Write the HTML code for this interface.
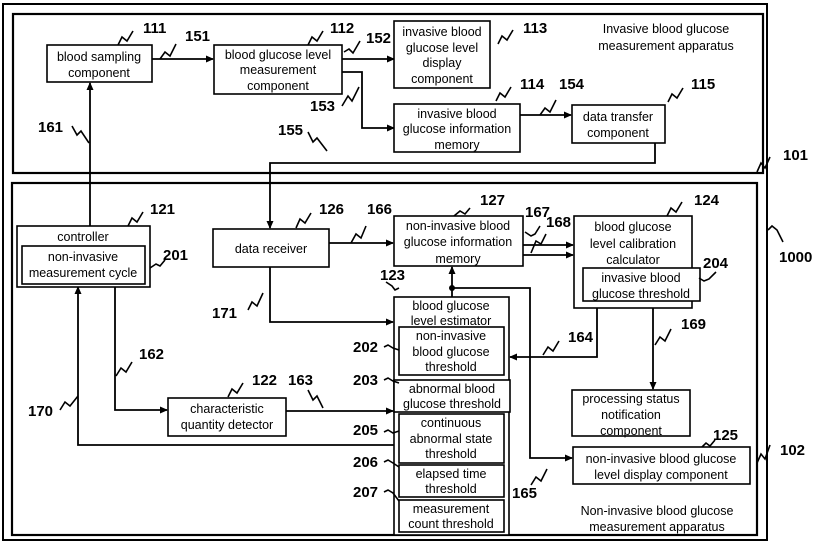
<!DOCTYPE html>
<html><head><meta charset="utf-8"><style>
html,body{margin:0;padding:0;background:#fff}
svg{display:block}
text{font-family:"Liberation Sans",sans-serif;font-size:12.5px;fill:#000}
.n{font-size:15px;font-weight:bold}
.b{fill:#fff;stroke:#000;stroke-width:1.6}
.l{fill:none;stroke:#000;stroke-width:1.8}
.s{fill:none;stroke:#000;stroke-width:1.6}
</style></head><body>
<svg width="817" height="545" viewBox="0 0 817 545" xmlns="http://www.w3.org/2000/svg">
<defs><marker id="a" markerWidth="8" markerHeight="8" refX="7" refY="4" orient="auto" markerUnits="userSpaceOnUse"><path d="M0,0.5 L8,4 L0,7.5 z" fill="#000"/></marker></defs>
<!-- outer boxes -->
<rect x="3" y="4" width="764" height="536" fill="none" stroke="#000" stroke-width="2"/>
<rect x="13" y="14" width="750" height="159" fill="none" stroke="#000" stroke-width="2.2"/>
<rect x="12" y="183" width="745" height="352" fill="none" stroke="#000" stroke-width="2.2"/>
<!-- connectors -->
<path class="l" d="M152,59 H213" marker-end="url(#a)"/>
<path class="l" d="M342,59 H394" marker-end="url(#a)"/>
<path class="l" d="M342,72 H362 V128 H394" marker-end="url(#a)"/>
<path class="l" d="M520,115 H571" marker-end="url(#a)"/>
<path class="l" d="M655,142 V163 H270 V228" marker-end="url(#a)"/>
<path class="l" d="M90,226 V83" marker-end="url(#a)"/>
<path class="l" d="M329,243 H393" marker-end="url(#a)"/>
<path class="l" d="M523,245 H573" marker-end="url(#a)"/>
<path class="l" d="M523,255 H573" marker-end="url(#a)"/>
<path class="l" d="M452,297 V267" marker-end="url(#a)"/>
<path class="l" d="M452,288 H530 V458 H572" marker-end="url(#a)"/>
<circle cx="452" cy="288" r="3"/>
<path class="l" d="M597,308 V357 H510" marker-end="url(#a)"/>
<path class="l" d="M653,308 V389" marker-end="url(#a)"/>
<path class="l" d="M270,267 V322 H393" marker-end="url(#a)"/>
<path class="l" d="M115,286 V410 H167" marker-end="url(#a)"/>
<path class="l" d="M286,411 H393" marker-end="url(#a)"/>
<path class="l" d="M394,445 H78 V287" marker-end="url(#a)"/>
<!-- boxes -->
<rect class="b" x="47" y="45" width="105" height="37"/>
<text x="99" y="61" text-anchor="middle">blood sampling</text><text x="99" y="77" text-anchor="middle">component</text>
<rect class="b" x="214" y="45" width="128" height="49"/>
<text x="278" y="59" text-anchor="middle">blood glucose level</text><text x="278" y="74" text-anchor="middle">measurement</text><text x="278" y="90" text-anchor="middle">component</text>
<rect class="b" x="394" y="21" width="96" height="67"/>
<text x="442" y="36" text-anchor="middle">invasive blood</text><text x="442" y="52" text-anchor="middle">glucose level</text><text x="442" y="67" text-anchor="middle">display</text><text x="442" y="83" text-anchor="middle">component</text>
<rect class="b" x="394" y="104" width="126" height="48"/>
<text x="457" y="118" text-anchor="middle">invasive blood</text><text x="457" y="133" text-anchor="middle">glucose information</text><text x="457" y="149" text-anchor="middle">memory</text>
<rect class="b" x="572" y="105" width="93" height="38"/>
<text x="618" y="121" text-anchor="middle">data transfer</text><text x="618" y="137" text-anchor="middle">component</text>
<text x="666" y="33" text-anchor="middle">Invasive blood glucose</text><text x="666" y="50" text-anchor="middle">measurement apparatus</text>
<rect class="b" x="17" y="226" width="133" height="61"/>
<text x="83" y="241" text-anchor="middle">controller</text>
<rect class="b" x="22" y="246" width="123" height="38"/>
<text x="83" y="261" text-anchor="middle">non-invasive</text><text x="83" y="277" text-anchor="middle">measurement cycle</text>
<rect class="b" x="213" y="229" width="116" height="38"/>
<text x="271" y="253" text-anchor="middle">data receiver</text>
<rect class="b" x="394" y="216" width="129" height="50"/>
<text x="458" y="230" text-anchor="middle">non-invasive blood</text><text x="458" y="246" text-anchor="middle">glucose information</text><text x="458" y="263" text-anchor="middle">memory</text>
<rect class="b" x="574" y="216" width="118" height="92"/>
<text x="633" y="231" text-anchor="middle">blood glucose</text><text x="633" y="248" text-anchor="middle">level calibration</text><text x="633" y="264" text-anchor="middle">calculator</text>
<rect class="b" x="583" y="268" width="117" height="33"/>
<text x="641" y="282" text-anchor="middle">invasive blood</text><text x="641" y="298" text-anchor="middle">glucose threshold</text>
<rect class="b" x="394" y="297" width="115" height="238"/>
<text x="451" y="310" text-anchor="middle">blood glucose</text><text x="451" y="325" text-anchor="middle">level estimator</text>
<rect class="b" x="399" y="327" width="105" height="48"/>
<text x="451" y="340" text-anchor="middle">non-invasive</text><text x="451" y="356" text-anchor="middle">blood glucose</text><text x="451" y="371" text-anchor="middle">threshold</text>
<rect class="b" x="394" y="380" width="116" height="32"/>
<text x="452" y="393" text-anchor="middle">abnormal blood</text><text x="452" y="408" text-anchor="middle">glucose threshold</text>
<rect class="b" x="399" y="414" width="105" height="49"/>
<text x="451" y="427" text-anchor="middle">continuous</text><text x="451" y="443" text-anchor="middle">abnormal state</text><text x="451" y="458" text-anchor="middle">threshold</text>
<rect class="b" x="399" y="465" width="105" height="32"/>
<text x="451" y="478" text-anchor="middle">elapsed time</text><text x="451" y="493" text-anchor="middle">threshold</text>
<rect class="b" x="399" y="500" width="105" height="32"/>
<text x="451" y="513" text-anchor="middle">measurement</text><text x="451" y="528" text-anchor="middle">count threshold</text>
<rect class="b" x="572" y="390" width="118" height="46"/>
<text x="631" y="403" text-anchor="middle">processing status</text><text x="631" y="419" text-anchor="middle">notification</text><text x="631" y="435" text-anchor="middle">component</text>
<rect class="b" x="573" y="447" width="177" height="37"/>
<text x="661" y="463" text-anchor="middle">non-invasive blood glucose</text><text x="661" y="479" text-anchor="middle">level display component</text>
<rect class="b" x="168" y="398" width="118" height="38"/>
<text x="227" y="413" text-anchor="middle">characteristic</text><text x="227" y="429" text-anchor="middle">quantity detector</text>
<text x="657" y="515" text-anchor="middle">Non-invasive blood glucose</text><text x="657" y="531" text-anchor="middle">measurement apparatus</text>
<!-- numbers -->
<text class="n" x="143" y="33">111</text><path class="s" d="M118,45 l4,-8 l5,4 l6,-10"/>
<text class="n" x="185" y="41">151</text><path class="s" d="M160,59 l5,-7 l5,4 l6,-12"/>
<text class="n" x="330" y="33">112</text><path class="s" d="M308,45 l4,-8 l5,4 l6,-10"/>
<text class="n" x="366" y="43">152</text><path class="s" d="M344,52 l5,-3 l4,4 l7,-12"/>
<text class="n" x="310" y="111">153</text><path class="s" d="M342,106 l6,-10 l4,5 l7,-14"/>
<text class="n" x="523" y="33">113</text><path class="s" d="M498,44 l4,-8 l5,4 l6,-10"/>
<text class="n" x="520" y="89">114</text><path class="s" d="M496,101 l4,-8 l5,4 l6,-10"/>
<text class="n" x="559" y="89">154</text><path class="s" d="M540,115 l5,-7 l5,4 l6,-12"/>
<text class="n" x="691" y="89">115</text><path class="s" d="M668,102 l4,-8 l5,4 l6,-10"/>
<text class="n" x="38" y="132">161</text><path class="s" d="M72,126 l5,9 l4,-4 l8,12"/>
<text class="n" x="278" y="135">155</text><path class="s" d="M308,132 l5,10 l4,-4 l10,13"/>
<text class="n" x="783" y="160">101</text><path class="s" d="M757,172 l4,-9 l4,5 l5,-11"/>
<text class="n" x="150" y="214">121</text><path class="s" d="M128,226 l4,-8 l5,4 l6,-10"/>
<text class="n" x="163" y="260">201</text><path class="s" d="M150,268 l6,-4 l4,2 l5,-6"/>
<text class="n" x="319" y="214">126</text><path class="s" d="M296,228 l4,-9 l5,4 l6,-10"/>
<text class="n" x="367" y="214">166</text><path class="s" d="M351,243 l5,-9 l5,4 l5,-12"/>
<text class="n" x="480" y="205">127</text><path class="s" d="M470,208 l-5,6 l-5,-3 l-6,5"/>
<text class="n" x="525" y="217">167</text><path class="s" d="M525,232 l6,4 l4,-2 l5,-8"/>
<text class="n" x="546" y="227">168</text><path class="s" d="M531,253 l5,-12 l5,3 l5,-10"/>
<text class="n" x="694" y="205">124</text><path class="s" d="M667,216 l4,-8 l5,4 l6,-10"/>
<text class="n" x="703" y="268">204</text><path class="s" d="M699,278 l5,3 l5,-2 l7,-7"/>
<text class="n" x="779" y="262">1000</text><path class="s" d="M768,230 l4,-4 l5,4 l6,12"/>
<text class="n" x="380" y="280">123</text><path class="s" d="M399,288 l-4,2 l-3,-4 l-6,-4"/>
<text class="n" x="212" y="318">171</text><path class="s" d="M248,310 l4,-8 l5,4 l6,-13"/>
<text class="n" x="568" y="342">164</text><path class="s" d="M543,355 l5,-8 l5,4 l6,-10"/>
<text class="n" x="681" y="329">169</text><path class="s" d="M655,345 l5,-8 l5,4 l6,-12"/>
<text class="n" x="353" y="352">202</text><path class="s" d="M384,347 l4,-2 l5,3 l6,2"/>
<text class="n" x="353" y="385">203</text><path class="s" d="M384,380 l4,-2 l5,3 l6,2"/>
<text class="n" x="139" y="359">162</text><path class="s" d="M116,376 l5,-8 l5,4 l6,-10"/>
<text class="n" x="252" y="385">122</text><path class="s" d="M228,397 l4,-8 l5,4 l6,-10"/>
<text class="n" x="288" y="385">163</text><path class="s" d="M308,390 l5,10 l4,-4 l6,12"/>
<text class="n" x="28" y="416">170</text><path class="s" d="M60,410 l5,-8 l5,4 l8,-10"/>
<text class="n" x="353" y="435">205</text><path class="s" d="M384,432 l4,-2 l5,3 l6,-2"/>
<text class="n" x="353" y="467">206</text><path class="s" d="M384,462 l4,-2 l5,3 l6,4"/>
<text class="n" x="353" y="497">207</text><path class="s" d="M384,492 l4,-2 l5,3 l6,8"/>
<text class="n" x="512" y="498">165</text><path class="s" d="M531,485 l5,-8 l5,4 l6,-12"/>
<text class="n" x="713" y="440">125</text><path class="s" d="M702,447 l4,-4 l4,3 l5,-6"/>
<text class="n" x="780" y="455">102</text><path class="s" d="M757,463 l4,-9 l4,5 l5,-14"/>
</svg>
</body></html>
